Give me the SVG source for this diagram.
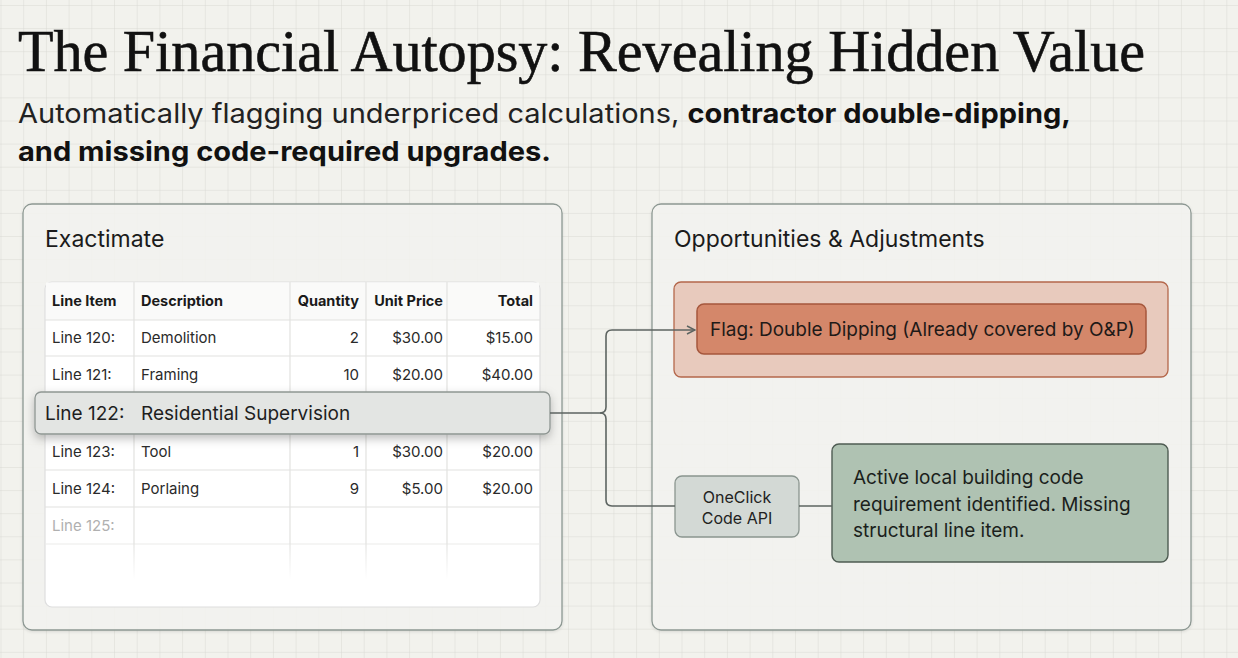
<svg xmlns="http://www.w3.org/2000/svg" width="1238" height="658" viewBox="0 0 1238 658">
<defs>
<pattern id="grid" x="0.5" y="5" width="22.7" height="23.1" patternUnits="userSpaceOnUse">
<path d="M0 0H22.7M0 0V23.1" fill="none" stroke="#d9d9d4" stroke-width="1"/>
</pattern>
<filter id="sh" x="-10%" y="-40%" width="120%" height="200%">
<feDropShadow dx="0" dy="4" stdDeviation="5" flood-color="#000" flood-opacity="0.25"/>
</filter>
<filter id="psh" x="-5%" y="-5%" width="110%" height="110%">
<feDropShadow dx="0" dy="1" stdDeviation="1.5" flood-color="#000" flood-opacity="0.12"/>
</filter>
<linearGradient id="fade" x1="0" y1="0" x2="0" y2="1">
<stop offset="0" stop-color="#e4e4e2"/>
<stop offset="1" stop-color="#e4e4e2" stop-opacity="0"/>
</linearGradient>
<marker id="arr" viewBox="0 0 10 10" refX="9" refY="5" markerWidth="10" markerHeight="10" markerUnits="userSpaceOnUse" orient="auto">
<path d="M1 1L9 5L1 9" fill="none" stroke="#5d6461" stroke-width="1.5"/>
</marker>
</defs>
<style>
.sans{font-family:Inter,"Noto Sans","Liberation Sans",sans-serif;}
.panel{fill:#f4f4f1;fill-opacity:0.85;stroke:#8d9893;stroke-width:1.3;}
.ptitle{font-size:23px;fill:#1b1b1b;}
.th{font-size:14.5px;font-weight:700;fill:#1a1a1a;}
.td{font-size:15px;fill:#2a2a2a;}
.grid-line{stroke:#e2e2e0;stroke-width:1.2;}
.conn{fill:none;stroke:#5d6461;stroke-width:1.6;}
</style>
<rect width="1238" height="658" fill="#f2f2ed"/>
<rect width="1238" height="658" fill="url(#grid)"/>

<g id="header">
<text x="18" y="71" font-family="'Liberation Serif','DejaVu Serif',serif" font-size="59" fill="#111" stroke="#111" stroke-width="0.6" textLength="1127" lengthAdjust="spacingAndGlyphs">The Financial Autopsy: Revealing Hidden Value</text>
<text class="sans" x="18" y="123" font-size="27" fill="#222" textLength="1053" lengthAdjust="spacingAndGlyphs">Automatically flagging underpriced calculations, <tspan font-weight="700" fill="#111">contractor double-dipping,</tspan></text>
<text class="sans" x="18" y="161" font-size="27" font-weight="700" fill="#111" textLength="533" lengthAdjust="spacingAndGlyphs">and missing code-required upgrades.</text>
</g>

<g id="exactimate-panel">
<rect class="panel" x="23" y="204" width="539" height="426" rx="9" filter="url(#psh)"/>
<text class="sans ptitle" x="45" y="247">Exactimate</text>
</g>

<g id="estimate-table">
<rect x="45" y="282" width="495" height="325" rx="7" fill="#fff" stroke="#dedede" stroke-width="1.2"/>
<path d="M46 282.6H539V320H46Z" fill="#fafaf9"/>
<g class="grid-line">
<line x1="45" y1="320" x2="540" y2="320"/>
<line x1="45" y1="356" x2="540" y2="356"/>
<line x1="45" y1="393" x2="540" y2="393"/>
<line x1="45" y1="431" x2="540" y2="431"/>
<line x1="45" y1="470" x2="540" y2="470"/>
<line x1="45" y1="507" x2="540" y2="507"/>
<line x1="45" y1="544" x2="540" y2="544" stroke="#ececea"/>
<line x1="134" y1="282" x2="134" y2="544"/>
<line x1="290" y1="282" x2="290" y2="544"/>
<line x1="366" y1="282" x2="366" y2="544"/>
<line x1="447" y1="282" x2="447" y2="544"/>
</g>
<g fill="url(#fade)">
<rect x="133.4" y="544" width="1.2" height="36"/>
<rect x="289.4" y="544" width="1.2" height="36"/>
<rect x="365.4" y="544" width="1.2" height="36"/>
<rect x="446.4" y="544" width="1.2" height="36"/>
</g>
<g class="sans th">
<text x="52" y="306">Line Item</text>
<text x="141" y="306">Description</text>
<text x="359" y="306" text-anchor="end">Quantity</text>
<text x="443" y="306" text-anchor="end">Unit Price</text>
<text x="533" y="306" text-anchor="end">Total</text>
</g>
<g class="sans td">
<text x="52" y="343">Line 120:</text><text x="141" y="343">Demolition</text><text x="359" y="343" text-anchor="end">2</text><text x="443" y="343" text-anchor="end">$30.00</text><text x="533" y="343" text-anchor="end">$15.00</text>
<text x="52" y="380">Line 121:</text><text x="141" y="380">Framing</text><text x="359" y="380" text-anchor="end">10</text><text x="443" y="380" text-anchor="end">$20.00</text><text x="533" y="380" text-anchor="end">$40.00</text>
<text x="52" y="457">Line 123:</text><text x="141" y="457">Tool</text><text x="359" y="457" text-anchor="end">1</text><text x="443" y="457" text-anchor="end">$30.00</text><text x="533" y="457" text-anchor="end">$20.00</text>
<text x="52" y="494">Line 124:</text><text x="141" y="494">Porlaing</text><text x="359" y="494" text-anchor="end">9</text><text x="443" y="494" text-anchor="end">$5.00</text><text x="533" y="494" text-anchor="end">$20.00</text>
<text x="52" y="531" fill="#b0b0b0">Line 125:</text>
</g>
</g>

<g id="line-122">
<rect x="35" y="392" width="515" height="42" rx="6" fill="#e3e5e3" stroke="#8f9693" stroke-width="1.3" filter="url(#sh)"/>
<text class="sans" x="45" y="420" font-size="19" fill="#1e1e1e">Line 122:</text>
<text class="sans" x="141" y="420" font-size="19" fill="#1e1e1e">Residential Supervision</text>
</g>

<g id="opportunities-panel">
<rect class="panel" x="652" y="204" width="539" height="426" rx="9" filter="url(#psh)"/>
<text class="sans ptitle" x="674" y="247">Opportunities &amp; Adjustments</text>
</g>

<g id="flag-outer">
<rect x="674" y="282" width="494" height="95" rx="7" fill="#e8cabd" stroke="#b4674b" stroke-width="1.3"/>
</g>
<g id="flag">
<rect x="697" y="304" width="449" height="50" rx="7" fill="#d4876a" stroke="#a5573d" stroke-width="1.5"/>
<text class="sans" x="710" y="336" font-size="19" fill="#1f1a18">Flag: Double Dipping (Already covered by O&amp;P)</text>
</g>

<g id="oneclick">
<rect x="675" y="476" width="124" height="61" rx="7" fill="#d3d9d5" stroke="#8a958f" stroke-width="1.3"/>
<text class="sans" x="737" y="503" font-size="16" fill="#222" text-anchor="middle">OneClick</text>
<text class="sans" x="737" y="524" font-size="16" fill="#222" text-anchor="middle">Code API</text>
</g>

<g id="code-requirement">
<rect x="832" y="444" width="336" height="118" rx="7" fill="#afc2b2" stroke="#4f5c53" stroke-width="1.4"/>
<text class="sans" font-size="19" fill="#1b1f1c">
<tspan x="853" y="484">Active local building code</tspan>
<tspan x="853" y="511">requirement identified. Missing</tspan>
<tspan x="853" y="537">structural line item.</tspan>
</text>
</g>

<g id="connectors">
<path class="conn" d="M550 413H600Q606 413 606 407V336Q606 330 612 330H695" marker-end="url(#arr)"/>
<path class="conn" d="M600 413Q606 413 606 419V500Q606 506 612 506H675"/>
<path class="conn" d="M799 506H832"/>
</g>
</svg>
